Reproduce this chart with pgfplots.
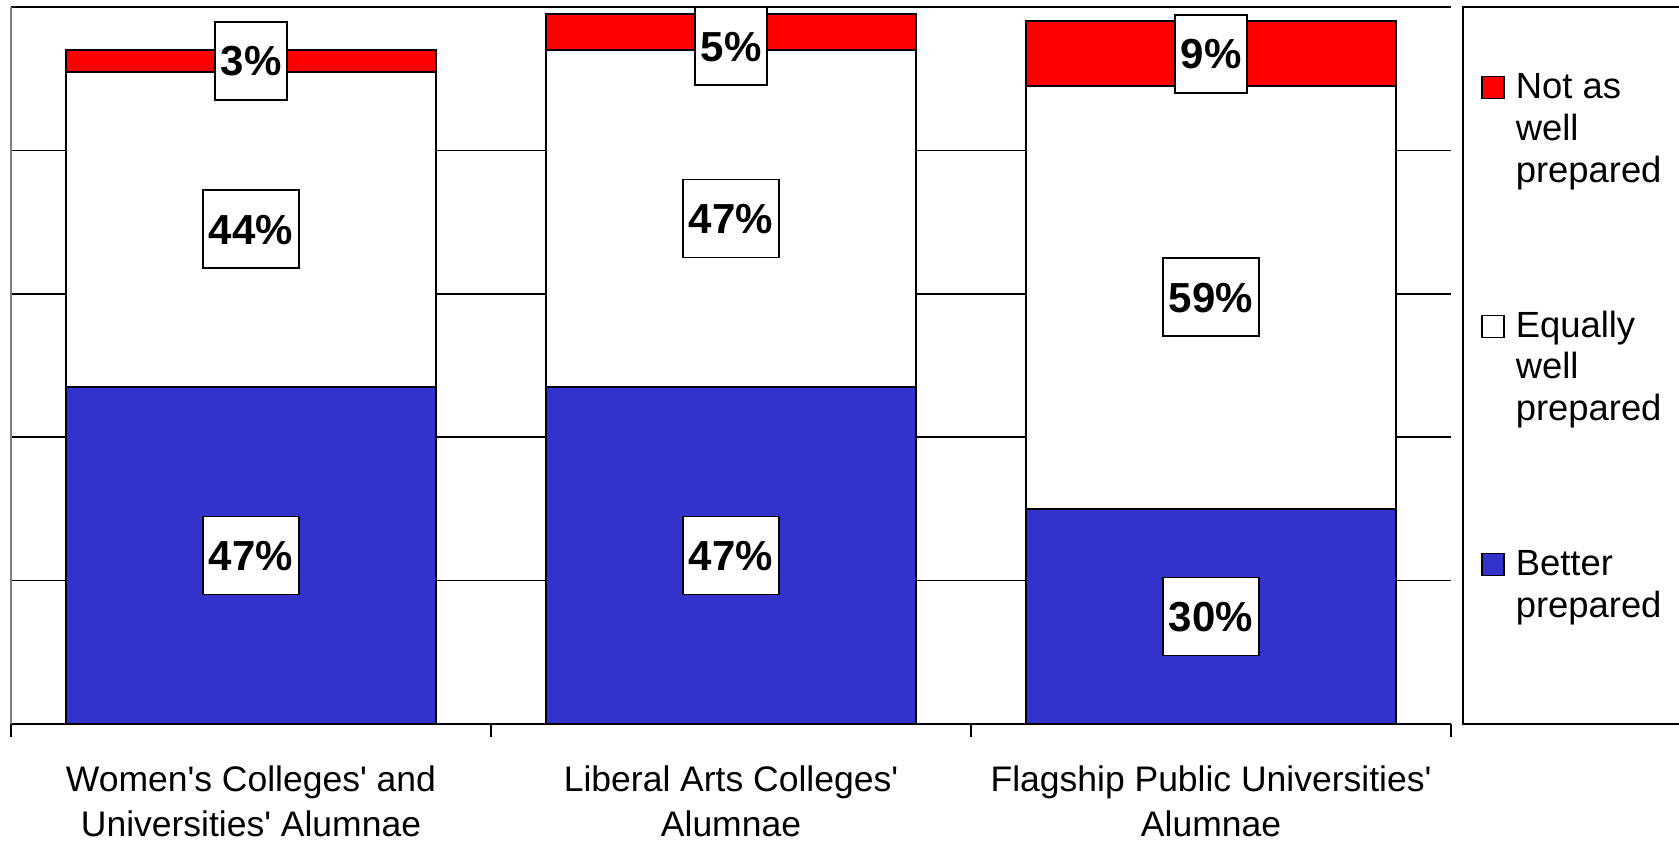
\documentclass[border=0pt]{standalone}
\usepackage{fontspec}
\setmainfont{Liberation Sans}[Ligatures=TeXOff]
\usepackage{pgfplots}
\pgfplotsset{compat=1.18}
\definecolor{barblue}{RGB}{51,51,204}
\definecolor{barred}{RGB}{255,0,0}
\newcommand\tl[2]{\vtop{\baselineskip=22.5pt\halign{\hfil##\hfil\cr#1\cr#2\cr}}}
\newcommand\lgt[3]{\vtop{\baselineskip=20.85pt\hbox{#1}\hbox{#2}\hbox{#3}}}
\pgfplotsset{
  sqleg/.style={legend image code/.code={\draw[##1, line width=0.7pt] (0pt,0pt) rectangle (11pt,11pt);}},
}
\tikzset{lbl/.style={draw=black, line width=0.9pt, fill=white,
  font=\fontsize{21}{25}\selectfont\bfseries,
  inner xsep=3pt, inner ysep=12pt, text height=15pt, text depth=0pt}}
\begin{document}
\begin{tikzpicture}
\begin{axis}[
  at={(5.5pt,59.5pt)}, anchor=south west,
  scale only axis, width=720pt, height=358.5pt,
  clip=false,
  ybar stacked, bar width=0.77,
  xmin=-0.5, xmax=2.5, ymin=0, ymax=100,
  enlarge x limits=false, enlarge y limits=false,
  axis x line*=bottom, axis y line*=left,
  x axis line style={-, black, line width=1pt},
  y axis line style={-, black!50, line width=1pt},
  xtick={0,1,2},
  xticklabels={{\tl{Women's Colleges' and}{Universities' Alumnae}},{\tl{Liberal Arts Colleges'}{Alumnae}},{\tl{Flagship Public Universities'}{Alumnae}}},
  xticklabel style={font=\fontsize{17.75}{22.5}\selectfont, anchor=base, inner sep=0pt, yshift=-33.85pt},
  minor xtick={-0.5,0.5,1.5,2.5},
  tick align=outside,
  major tick length=0pt, minor tick length=6.5pt,
  minor tick style={black, line width=1pt},
  ytick={0,20,40,60,80,100}, yticklabels={},
  ymajorgrids, major grid style={black, line width=0.75pt},
  reverse legend,
  legend style={at={(1.02083,0.90614)}, anchor=north west, draw=none, fill=none,
    inner sep=0pt, column sep=5.5pt, row sep=0pt,
    font=\fontsize{18.2}{20.85}\selectfont,
    nodes={inner sep=0pt, text height=12pt, text depth=107.25pt},
    cells={anchor=base west}},
]
\addplot[fill=barblue, draw=black, line width=1pt, sqleg] coordinates {(0,47) (1,47) (2,30)};
\addlegendentry{\lgt{Better}{prepared}{}}
\addplot[fill=white, draw=black, line width=1pt, sqleg] coordinates {(0,44) (1,47) (2,59)};
\addlegendentry{\lgt{Equally}{well}{prepared}}
\addplot[fill=barred, draw=black, line width=1pt, sqleg] coordinates {(0,3) (1,5) (2,9)};
\addlegendentry{\lgt{Not as}{well}{prepared}}

\coordinate (a1) at (axis cs:0,23.5);
\coordinate (a2) at (axis cs:0,69);
\coordinate (a3) at (axis cs:0,92.5);
\coordinate (b1) at (axis cs:1,23.5);
\coordinate (b2) at (axis cs:1,70.5);
\coordinate (b3) at (axis cs:1,94.55);
\coordinate (c1) at (axis cs:2,15);
\coordinate (c2) at (axis cs:2,59.5);
\coordinate (c3) at (axis cs:2,93.5);

\draw[line width=1pt] (rel axis cs:1.00833,0) rectangle (rel axis cs:1.1597,1);
\end{axis}
\node[lbl] at (a1) {47\%};
\node[lbl] at (a2) {44\%};
\node[lbl] at (a3) {3\%};
\node[lbl] at (b1) {47\%};
\node[lbl] at (b2) {47\%};
\node[lbl] at (b3) {5\%};
\node[lbl] at (c1) {30\%};
\node[lbl] at (c2) {59\%};
\node[lbl] at (c3) {9\%};
\pgfresetboundingbox
\useasboundingbox (0,0) rectangle (839.5pt,421.5pt);
\end{tikzpicture}
\end{document}
